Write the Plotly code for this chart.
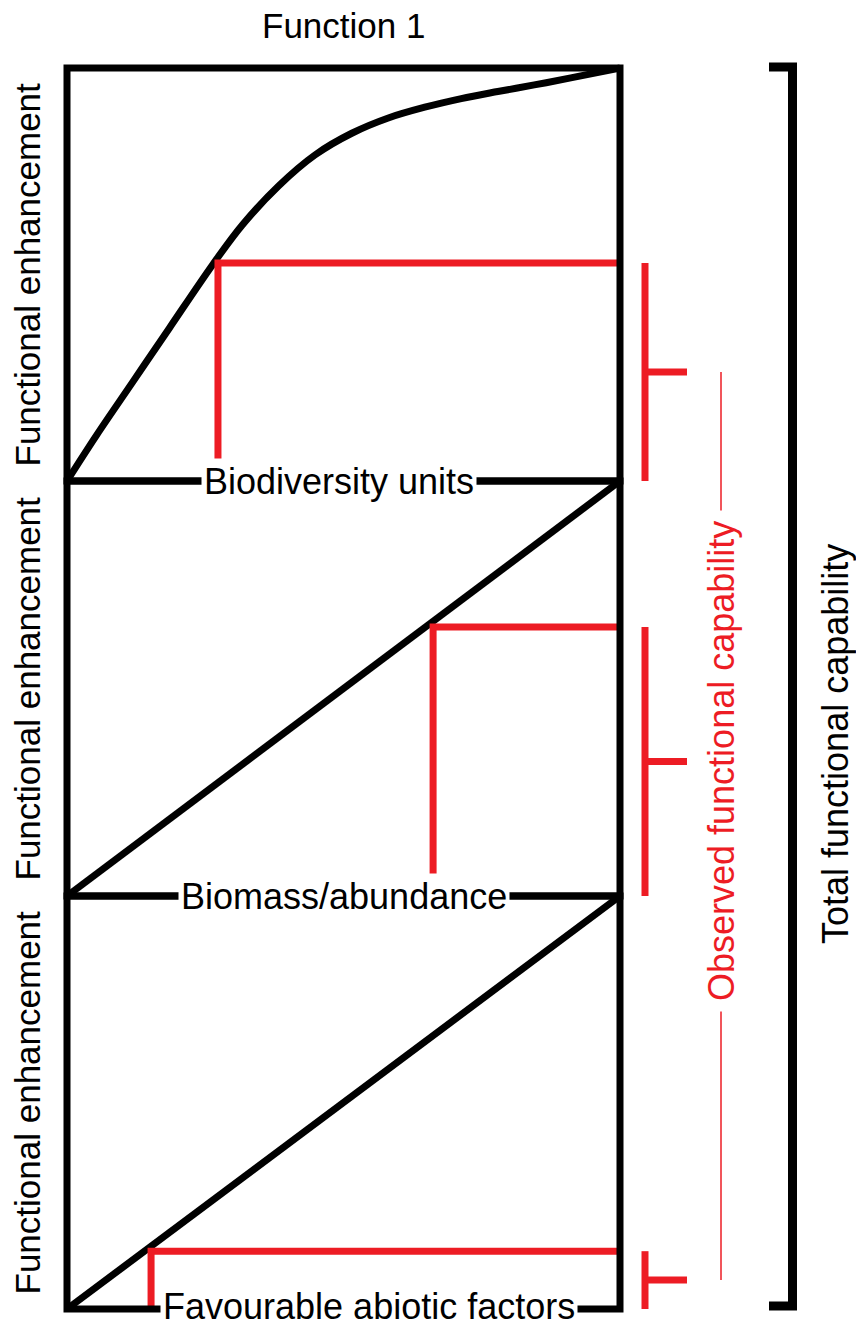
import plotly.graph_objects as go

# ------------------------------------------------------------
# Data (panel units: 0 = origin, 1 = top / right edge of a panel)
# ------------------------------------------------------------
title_text = "Function 1"
y_label = "Functional enhancement"
x_labels = ["Biodiversity units", "Biomass/abundance", "Favourable abiotic factors"]
x_label_pos = [0.492, 0.50, 0.547]

# saturating response (panel 1)
curve1_x = [0, 0.053, 0.119, 0.185, 0.264, 0.317, 0.383, 0.449, 0.515,
            0.581, 0.647, 0.713, 0.779, 0.845, 0.911, 1.0]
curve1_y = [0, 0.11, 0.24, 0.37, 0.525, 0.62, 0.715, 0.79, 0.842,
            0.879, 0.905, 0.926, 0.943, 0.959, 0.976, 1.0]
# linear responses (panels 2 and 3)
curve2_x = [0, 1]
curve2_y = [0, 1]
curve3_x = [0, 1]
curve3_y = [0, 1]

# observed state in each panel
observed_x = [0.273, 0.662, 0.152]
observed_y = [0.528, 0.648, 0.14]

observed_label = "Observed functional capability"
total_label = "Total functional capability"

# ------------------------------------------------------------
# Layout constants (pixels)
# ------------------------------------------------------------
W, H = 856, 1327
LEFT, RIGHT = 67, 620
EDGES = [68, 481, 896, 1309]
PAD = 18
BLACK = "#000000"
RED = "#ed1c24"
FONT = "Liberation Sans, Arial, sans-serif"

BRACKET_X = 645      # red brackets
TICK_END = 687
THIN_X = 721         # thin red connector
TOTAL_X = 792.5      # black bracket
TOTAL_CAP = 769
LABEL_SHIFT = [0, 0, 3]   # px the x label is lifted (keeps the last one on the page)


def px(x):
    return x / W


def py(y):
    return 1 - y / H


def to_panel_x(x):
    return (x - LEFT) / (RIGHT - LEFT)


curves = [(curve1_x, curve1_y, "spline"), (curve2_x, curve2_y, "linear"),
          (curve3_x, curve3_y, "linear")]

fig = go.Figure()
shapes = []
annotations = []
layout_axes = {}
tick_px = []

for i in range(3):
    top, bottom = EDGES[i], EDGES[i + 1]
    h = bottom - top
    xa = "x" if i == 0 else f"x{i + 1}"
    ya = "y" if i == 0 else f"y{i + 1}"
    xkey = "xaxis" if i == 0 else f"xaxis{i + 1}"
    ykey = "yaxis" if i == 0 else f"yaxis{i + 1}"

    layout_axes[xkey] = dict(domain=[0, 1], range=[to_panel_x(0), to_panel_x(W)],
                             visible=False, fixedrange=True, anchor=ya)
    layout_axes[ykey] = dict(domain=[py(bottom + PAD), py(top - PAD)],
                             range=[-PAD / h, 1 + PAD / h],
                             visible=False, fixedrange=True, anchor=xa)

    cx, cy, shape = curves[i]
    ox, oy = observed_x[i], observed_y[i]
    bx = to_panel_x(BRACKET_X)
    tx = to_panel_x(TICK_END)

    # response curve
    fig.add_trace(go.Scatter(x=cx, y=cy, mode="lines", xaxis=xa, yaxis=ya,
                             line=dict(color=BLACK, width=7, shape=shape),
                             hoverinfo="skip", showlegend=False))
    # observed level
    fig.add_trace(go.Scatter(x=[ox, ox, 1], y=[0, oy, oy], mode="lines",
                             xaxis=xa, yaxis=ya, line=dict(color=RED, width=7),
                             hoverinfo="skip", showlegend=False))
    # red bracket + tick
    fig.add_trace(go.Scatter(x=[bx, bx], y=[0, oy], mode="lines",
                             xaxis=xa, yaxis=ya, line=dict(color=RED, width=7),
                             hoverinfo="skip", showlegend=False))
    fig.add_trace(go.Scatter(x=[bx, tx], y=[oy / 2, oy / 2], mode="lines",
                             xaxis=xa, yaxis=ya, line=dict(color=RED, width=7),
                             hoverinfo="skip", showlegend=False))
    tick_px.append(bottom - oy / 2 * h)

    # panel frame
    shapes.append(dict(type="rect", xref=xa, yref=ya, x0=0, x1=1, y0=0, y1=1,
                       line=dict(color=BLACK, width=7), layer="above"))

    # axis labels
    annotations.append(dict(xref=xa, yref=ya, x=x_label_pos[i], y=LABEL_SHIFT[i] / h,
                            text=x_labels[i], showarrow=False,
                            xanchor="center", yanchor="middle",
                            bgcolor="white", borderpad=2,
                            font=dict(family=FONT, size=36, color=BLACK)))
    annotations.append(dict(xref="paper", yref="paper", x=px(27),
                            y=py((top + bottom) / 2), text=y_label,
                            showarrow=False, textangle=-90,
                            xanchor="center", yanchor="middle",
                            font=dict(family=FONT, size=35, color=BLACK)))

# thin red connector between the bracket ticks
shapes.append(dict(type="line", xref="paper", yref="paper",
                   x0=px(THIN_X), x1=px(THIN_X), y0=py(tick_px[0]), y1=py(tick_px[2]),
                   line=dict(color=RED, width=1.5)))
annotations.append(dict(xref="paper", yref="paper", x=px(THIN_X), y=py(761),
                        text=observed_label, showarrow=False, textangle=-90,
                        xanchor="center", yanchor="middle", bgcolor="white",
                        borderpad=10, font=dict(family=FONT, size=36, color=RED)))

# black bracket for the total
shapes.append(dict(type="path", xref="paper", yref="paper",
                   path=(f"M {px(TOTAL_CAP)},{py(67)} L {px(TOTAL_X)},{py(67)} "
                         f"L {px(TOTAL_X)},{py(1306)} L {px(TOTAL_CAP)},{py(1306)}"),
                   line=dict(color=BLACK, width=9)))
annotations.append(dict(xref="paper", yref="paper", x=px(835), y=py(744),
                        text=total_label, showarrow=False, textangle=-90,
                        xanchor="center", yanchor="middle",
                        font=dict(family=FONT, size=36, color=BLACK)))

annotations.append(dict(xref="paper", yref="paper", x=px(343), y=py(25),
                        text=title_text, showarrow=False,
                        xanchor="center", yanchor="middle",
                        font=dict(family=FONT, size=35, color=BLACK)))

fig.update_layout(
    width=W, height=H,
    margin=dict(l=0, r=0, t=0, b=0),
    paper_bgcolor="white", plot_bgcolor="rgba(0,0,0,0)",
    shapes=shapes, annotations=annotations,
    showlegend=False,
    **layout_axes,
)

# drop the browser's default body margin so the figure sits at the page origin
fig.write_html("out.html", config={"displayModeBar": False},
               post_script="document.body.style.margin='0';"
                           "document.body.style.overflow='hidden';")
